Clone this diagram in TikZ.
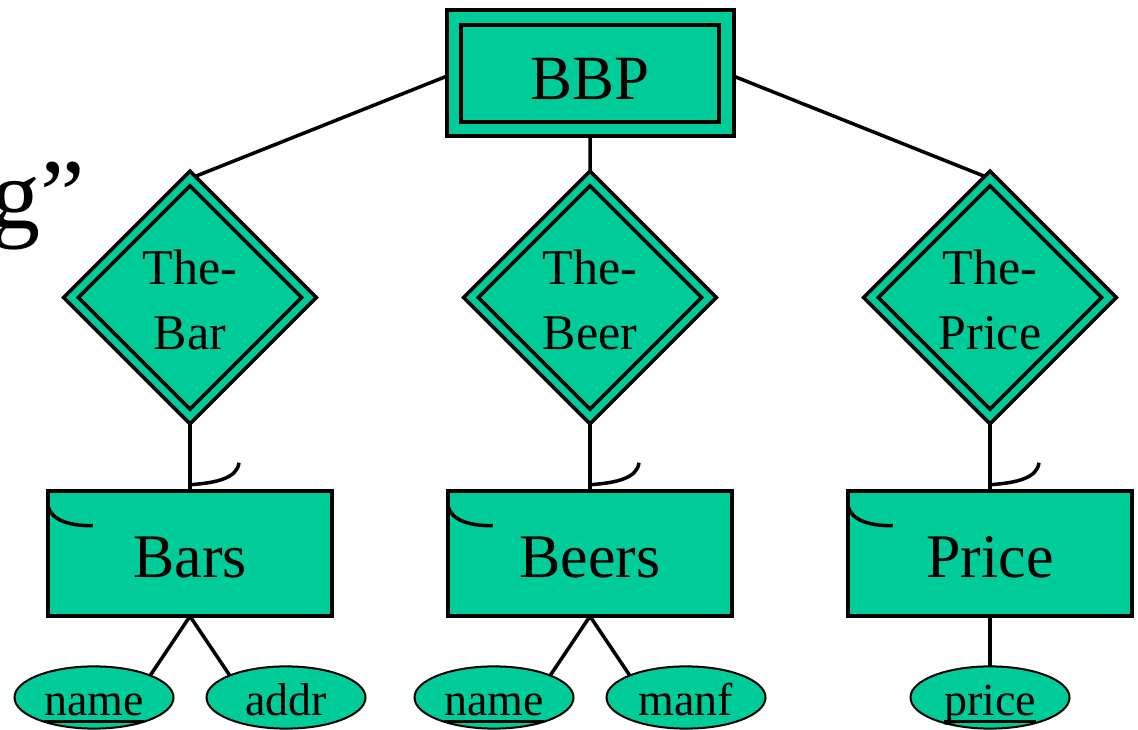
\documentclass[tikz,border=0pt]{standalone}
\usepackage{fontspec}
\setmainfont{Liberation Serif}
\usetikzlibrary{shapes.geometric}
\definecolor{er}{RGB}{0,204,153}
\pgfdeclarelayer{bg}
\pgfsetlayers{bg,main}
\newcommand\attul[1]{\setbox0\hbox{#1}\rlap{\rule[-7pt]{\wd0}{2.5pt}}\box0}
\begin{document}
\begin{tikzpicture}[x=1pt,y=-1pt,
  ent/.style={rectangle, draw, line width=4pt, fill=er, minimum width=284.5pt, minimum height=125.5pt,
    inner sep=0pt, outer sep=0pt, font=\fontsize{62}{70}\selectfont, text height=48pt, text depth=0pt},
  wkent/.style={rectangle, draw, line width=4pt, double=er, double distance=10.5pt, fill=er,
    minimum width=272.5pt, minimum height=111.5pt, inner sep=0pt, outer sep=0pt,
    font=\fontsize{63}{70}\selectfont, text height=52pt, text depth=0pt},
  rel/.style={diamond, draw, line width=3.8pt, double=er, double distance=6.5pt, fill=er,
    minimum width=238pt, minimum height=238pt, inner sep=0pt, outer sep=0pt, align=center,
    font=\fontsize{50}{65}\selectfont},
  att/.style={ellipse, draw, line width=2pt, fill=er, minimum width=159pt, minimum height=61pt,
    inner sep=0pt, outer sep=0pt, font=\fontsize{46}{50}\selectfont, text height=40pt, text depth=4pt},
  link/.style={line width=3.5pt},
  hook/.style={line width=3.5pt}
]
\clip (0,0) rectangle (1138,730);

\node[anchor=base west, font=\fontsize{100}{100}\selectfont, inner sep=0pt] (title) at (-10,229) {g”};

\node[wkent] (bbp) at (590.25,73.3) {BBP};

\node[rel] (tbar) at (190,297.5) {\rule{0pt}{40pt}The-\\Bar};
\node[rel] (tbeer) at (590,297.5) {\rule{0pt}{40pt}The-\\Beer};
\node[rel] (tprice) at (990,297.5) {\rule{0pt}{40pt}The-\\Price};

\node[ent] (bars) at (190,553.5) {Bars};
\node[ent] (beers) at (590,553.5) {Beers};
\node[ent] (price) at (990,553.5) {Price};

\node[att] (bname) at (94,697.5) {\attul{name}};
\node[att] (baddr) at (286,697.5) {addr};
\node[att] (ename) at (494,697.5) {\attul{name}};
\node[att] (emanf) at (686,697.5) {manf};
\node[att] (pprice) at (990,697.5) {\attul{price}};

\begin{pgfonlayer}{bg}
  \fill[white] (0,0) rectangle (1138,730);
  \draw[link] (bbp.west) -- (tbar.north);
  \draw[link] (bbp.south) -- (tbeer.north);
  \draw[link] (bbp.east) -- (tprice.north);
  \draw[link] (tbar.south) -- (bars.north);
  \draw[link] (tbeer.south) -- (beers.north);
  \draw[link] (tprice.south) -- (price.north);
  \draw[link] (bars.south) -- (bname.north east);
  \draw[link] (bars.south) -- (baddr.north west);
  \draw[link] (beers.south) -- (ename.north east);
  \draw[link] (beers.south) -- (emanf.north west);
  \draw[link] (price.south) -- (pprice.north);
\end{pgfonlayer}

\foreach \e in {bars,beers,price}{
  \draw[hook] ([yshift=6pt]\e.north) .. controls ([xshift=28pt,yshift=8pt]\e.north) and ([xshift=47pt,yshift=13pt]\e.north) .. ([xshift=49pt,yshift=28pt]\e.north);
  \draw[hook] ([yshift=-14pt]\e.north west) .. controls ([xshift=3pt,yshift=-30pt]\e.north west) and ([xshift=22pt,yshift=-35pt]\e.north west) .. ([xshift=45pt,yshift=-35pt]\e.north west);
}
\end{tikzpicture}
\end{document}
